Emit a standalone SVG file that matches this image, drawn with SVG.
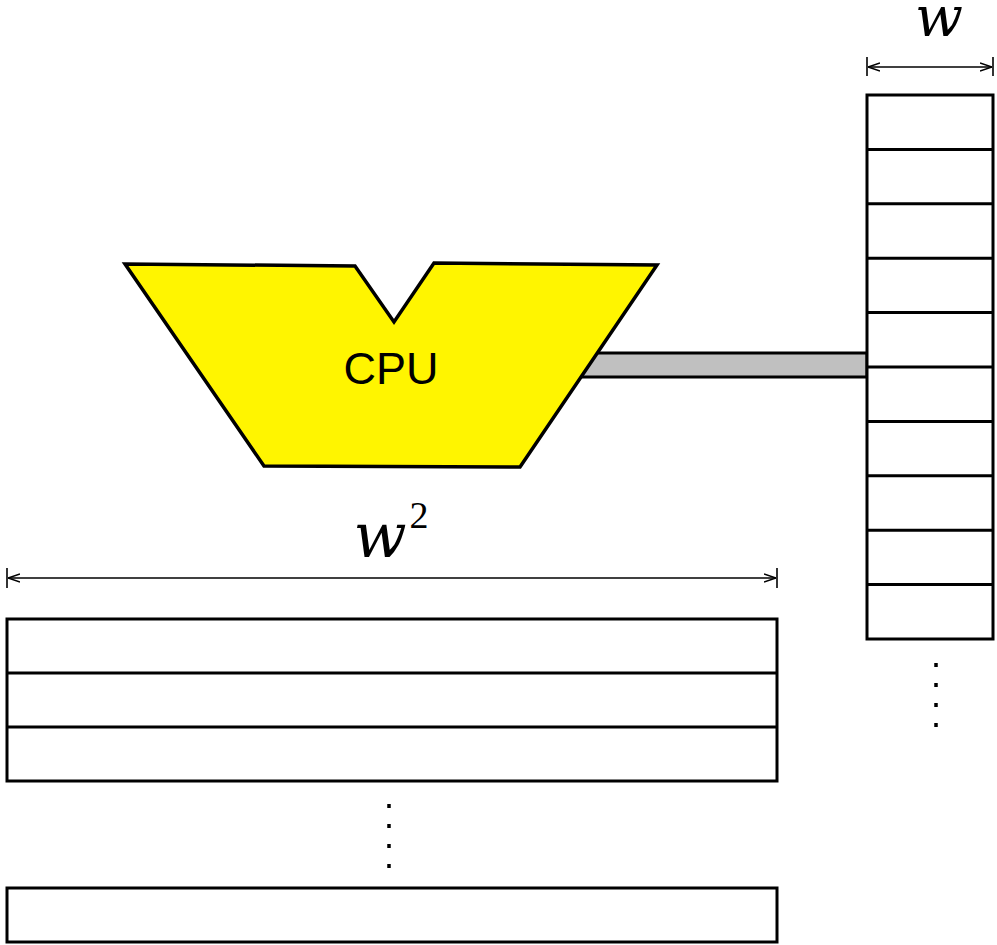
<svg xmlns="http://www.w3.org/2000/svg" width="997" height="945" viewBox="0 0 997 945">
<defs>
<marker id="ah" viewBox="0 0 12 10" refX="12" refY="5" markerWidth="12" markerHeight="10" markerUnits="userSpaceOnUse" orient="auto-start-reverse">
<path d="M0,1 L12,5 L0,9" fill="none" stroke="#000" stroke-width="1.6"/>
</marker>
<style>
.box{fill:#fff;stroke:#000;stroke-width:3}
.row{stroke:#000;stroke-width:3}
.dim{stroke:#000;stroke-width:1.6;fill:none}
.math{font-family:"DejaVu Serif","Liberation Serif",serif;font-style:italic;fill:#000}
.dot{stroke:#000;stroke-width:3.5;stroke-dasharray:4 16}
</style>
</defs>
<rect width="997" height="945" fill="#fff"/>
<g id="connectors">
<rect id="bus" x="560" y="353" width="307" height="24" fill="#c0c0c0" stroke="#000" stroke-width="3"/>
<line class="dim" x1="868" y1="67" x2="992" y2="67" marker-start="url(#ah)" marker-end="url(#ah)"/>
<line class="dim" x1="867" y1="57" x2="867" y2="76"/>
<line class="dim" x1="993" y1="57" x2="993" y2="76"/>
<line class="dim" x1="8" y1="578" x2="776" y2="578" marker-start="url(#ah)" marker-end="url(#ah)"/>
<line class="dim" x1="7" y1="568" x2="7" y2="588"/>
<line class="dim" x1="777" y1="568" x2="777" y2="588"/>
</g>
<g id="cpu">
<polygon points="125,264 355,266 394,322 434,263 657,265 520,467 264,466" fill="#fff500" stroke="#000" stroke-width="3.5" stroke-linejoin="miter"/>
<text x="391" y="384" font-family="Liberation Sans, Arial, sans-serif" font-size="45" text-anchor="middle" fill="#000">CPU</text>
</g>
<g id="small-memory">
<rect class="box" x="867" y="95" width="126" height="544"/>
<line class="row" x1="867" y1="149.4" x2="993" y2="149.4"/>
<line class="row" x1="867" y1="203.8" x2="993" y2="203.8"/>
<line class="row" x1="867" y1="258.2" x2="993" y2="258.2"/>
<line class="row" x1="867" y1="312.6" x2="993" y2="312.6"/>
<line class="row" x1="867" y1="367" x2="993" y2="367"/>
<line class="row" x1="867" y1="421.4" x2="993" y2="421.4"/>
<line class="row" x1="867" y1="475.8" x2="993" y2="475.8"/>
<line class="row" x1="867" y1="530.2" x2="993" y2="530.2"/>
<line class="row" x1="867" y1="584.6" x2="993" y2="584.6"/>
<line class="dot" x1="936" y1="663" x2="936" y2="730"/>
</g>
<g id="label-w">
<text class="math" x="939" y="36" font-size="56" text-anchor="middle">w</text>
</g>
<g id="label-w2">
<text class="math" x="380" y="557" font-size="62" text-anchor="middle">w</text>
<text x="419" y="528" font-family="Liberation Serif, DejaVu Serif, serif" font-size="38" text-anchor="middle" fill="#000">2</text>
</g>
<g id="large-memory">
<rect class="box" x="7" y="619" width="770" height="162"/>
<line class="row" x1="7" y1="673" x2="777" y2="673"/>
<line class="row" x1="7" y1="727" x2="777" y2="727"/>
<line class="dot" x1="389" y1="804" x2="389" y2="872"/>
<rect class="box" x="7" y="888" width="770" height="54"/>
</g>
</svg>
